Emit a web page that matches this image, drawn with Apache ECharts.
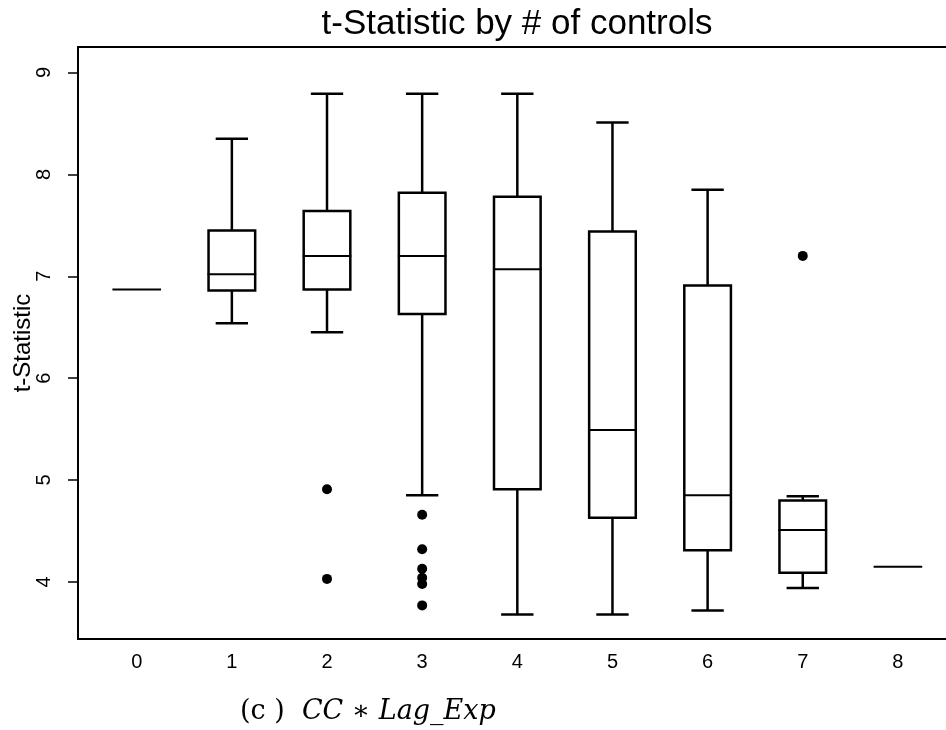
<!DOCTYPE html>
<html>
<head>
<meta charset="utf-8">
<script src="https://cdn.jsdelivr.net/npm/echarts@6/dist/echarts.min.js"></script>
<style>html,body{margin:0;padding:0;background:#fff;}#c{width:946px;height:730px;}</style>
</head>
<body>
<div id="c"></div>
<script>
// ---- data ----
const categories = ['0', '1', '2', '3', '4', '5', '6', '7', '8'];
const lowWhisker  = [6.87, 6.54, 6.45, 4.85, 3.68, 3.68, 3.72, 3.94, 4.15];
const q1          = [6.87, 6.86, 6.87, 6.63, 4.91, 4.63, 4.31, 4.09, 4.15];
const median      = [6.87, 7.02, 7.20, 7.20, 7.07, 5.49, 4.85, 4.51, 4.15];
const q3          = [6.87, 7.45, 7.64, 7.82, 7.78, 7.44, 6.91, 4.80, 4.15];
const highWhisker = [6.87, 8.35, 8.79, 8.79, 8.79, 8.51, 7.85, 4.84, 4.15];
const outlierCat  = [2, 2, 3, 3, 3, 3, 3, 3, 7];
const outlierVal  = [4.91, 4.03, 4.66, 4.32, 4.13, 4.04, 3.98, 3.77, 7.20];
const yTicks = [4, 5, 6, 7, 8, 9];
const titleText = 't-Statistic by # of controls';
const yName = 't-Statistic';

const boxData = categories.map((c, i) => [i, lowWhisker[i], q1[i], median[i], q3[i], highWhisker[i]]);
const outData = outlierCat.map((c, i) => [c, outlierVal[i]]);

const BOX_HW = 0.245, CAP_HW = 0.17;

function renderBox(params, api) {
  const x = api.value(0), lo = api.value(1), a = api.value(2), m = api.value(3), b = api.value(4), hi = api.value(5);
  const L = api.coord([x - BOX_HW, m])[0], R = api.coord([x + BOX_HW, m])[0];
  const cx = api.coord([x, m])[0];
  const cl = api.coord([x - CAP_HW, m])[0], cr = api.coord([x + CAP_HW, m])[0];
  const yLo = api.coord([x, lo])[1], yA = api.coord([x, a])[1], yM = api.coord([x, m])[1], yB = api.coord([x, b])[1], yHi = api.coord([x, hi])[1];
  const st = {stroke: '#000', lineWidth: 2.5, fill: null};
  const children = [];
  if (b > a) {
    children.push({type: 'rect', shape: {x: L, y: yB, width: R - L, height: yA - yB}, style: {stroke: '#000', lineWidth: 2.5, fill: '#fff'}});
  }
  children.push({type: 'line', shape: {x1: L - 1, y1: yM, x2: R + 1, y2: yM}, style: {stroke: '#000', lineWidth: 2}});
  if (hi > b) {
    children.push({type: 'line', shape: {x1: cx, y1: yB, x2: cx, y2: yHi}, style: st});
    children.push({type: 'line', shape: {x1: cl, y1: yHi, x2: cr, y2: yHi}, style: st});
  }
  if (lo < a) {
    children.push({type: 'line', shape: {x1: cx, y1: yA, x2: cx, y2: yLo}, style: st});
    children.push({type: 'line', shape: {x1: cl, y1: yLo, x2: cr, y2: yLo}, style: st});
  }
  return {type: 'group', children};
}

const chart = echarts.init(document.getElementById('c'), null, {renderer: 'canvas'});
chart.setOption({
  animation: false,
  backgroundColor: '#fff',
  grid: {left: 78, top: 47, width: 877, height: 592, containLabel: false, outerBoundsMode: 'none',
         show: true, borderColor: '#000', borderWidth: 2, backgroundColor: 'transparent'},
  xAxis: {
    type: 'value', min: -0.617, max: 8.6,
    splitLine: {show: false},
    axisLine: {show: false, onZero: false},
    axisTick: {show: false},
    axisLabel: {
      customValues: categories.map((c, i) => i),
      formatter: v => categories[Math.round(v)],
      color: '#000', fontSize: 20, fontFamily: 'Liberation Sans, Arial, sans-serif', margin: 13
    }
  },
  yAxis: {
    type: 'value', min: 3.44, max: 9.25,
    splitLine: {show: false},
    axisLine: {show: true, onZero: false, lineStyle: {color: '#000', width: 2}},
    axisTick: {show: true, inside: false, length: 10, lineStyle: {color: '#000', width: 1.5}, customValues: yTicks},
    axisLabel: {customValues: yTicks, rotate: 90, color: '#000', fontSize: 20, fontFamily: 'Liberation Sans, Arial, sans-serif', margin: 24}
  },
  graphic: [
    {type: 'text', x: 517, y: 24, style: {text: titleText, fill: '#000', font: '35px "Liberation Sans", Arial, sans-serif', textAlign: 'center', textVerticalAlign: 'middle'}},
    {type: 'text', x: 23, y: 343, rotation: Math.PI / 2, style: {text: yName, fill: '#000', font: '24px "Liberation Sans", Arial, sans-serif', textAlign: 'center', textVerticalAlign: 'middle'}},
    {type: 'text', x: 240, y: 712, style: {
      text: '{a|(c )  }{b|CC ∗ Lag_Exp}', textVerticalAlign: 'middle',
      rich: {
        a: {fontFamily: 'DejaVu Serif, serif', fontSize: 27, fill: '#000'},
        b: {fontFamily: 'DejaVu Serif, serif', fontStyle: 'italic', fontSize: 27, fill: '#000'}
      }
    }}
  ],
  series: [
    {type: 'custom', renderItem: renderBox, data: boxData, encode: {x: 0, y: [1, 2, 3, 4, 5]}, clip: true, z: 2},
    {type: 'scatter', data: outData, symbol: 'circle', symbolSize: 10, itemStyle: {color: '#000', opacity: 1}, z: 3}
  ]
});
</script>
</body>
</html>
